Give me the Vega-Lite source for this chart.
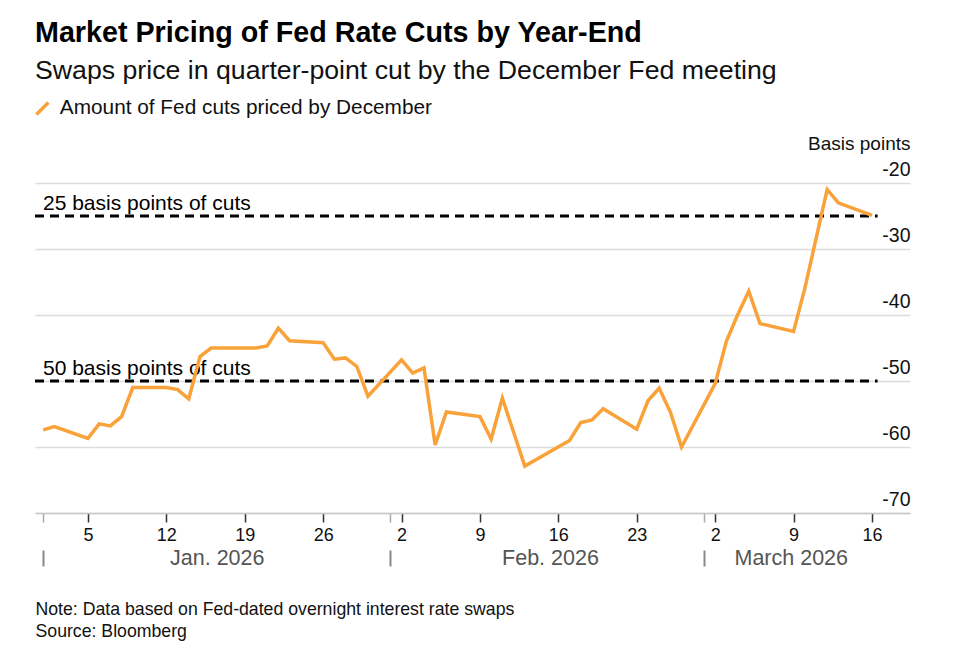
{
  "$schema": "https://vega.github.io/schema/vega-lite/v6.json",
  "width": 875,
  "height": 330,
  "autosize": {"type": "none"},
  "padding": {"left": 35, "top": 183, "right": 50, "bottom": 141},
  "background": "white",
  "config": {"font": "Liberation Sans", "view": {"stroke": null}},
  "title": {
    "text": "Market Pricing of Fed Rate Cuts by Year-End",
    "subtitle": "Swaps price in quarter-point cut by the December Fed meeting",
    "anchor": "start",
    "frame": "group",
    "font": "Liberation Sans",
    "fontSize": 28.7,
    "fontWeight": "bold",
    "color": "#000000",
    "subtitleFont": "Liberation Sans",
    "subtitleFontSize": 26.7,
    "subtitleColor": "#111111",
    "subtitlePadding": 11,
    "offset": 13
  },
  "datasets": {
    "swaps": [
      {"date": "2026-01-01", "bp": -57.4},
      {"date": "2026-01-02", "bp": -56.9},
      {"date": "2026-01-05", "bp": -58.7},
      {"date": "2026-01-06", "bp": -56.5},
      {"date": "2026-01-07", "bp": -56.8},
      {"date": "2026-01-08", "bp": -55.4},
      {"date": "2026-01-09", "bp": -51.0},
      {"date": "2026-01-12", "bp": -51.0},
      {"date": "2026-01-13", "bp": -51.3},
      {"date": "2026-01-14", "bp": -52.7},
      {"date": "2026-01-15", "bp": -46.3},
      {"date": "2026-01-16", "bp": -45.0},
      {"date": "2026-01-20", "bp": -45.0},
      {"date": "2026-01-21", "bp": -44.7},
      {"date": "2026-01-22", "bp": -42.0},
      {"date": "2026-01-23", "bp": -43.9},
      {"date": "2026-01-26", "bp": -44.2},
      {"date": "2026-01-27", "bp": -46.7},
      {"date": "2026-01-28", "bp": -46.5},
      {"date": "2026-01-29", "bp": -47.8},
      {"date": "2026-01-30", "bp": -52.3},
      {"date": "2026-02-02", "bp": -46.8},
      {"date": "2026-02-03", "bp": -48.8},
      {"date": "2026-02-04", "bp": -48.0},
      {"date": "2026-02-05", "bp": -59.7},
      {"date": "2026-02-06", "bp": -54.7},
      {"date": "2026-02-09", "bp": -55.4},
      {"date": "2026-02-10", "bp": -58.8},
      {"date": "2026-02-11", "bp": -52.6},
      {"date": "2026-02-13", "bp": -62.9},
      {"date": "2026-02-17", "bp": -59.0},
      {"date": "2026-02-18", "bp": -56.3},
      {"date": "2026-02-19", "bp": -55.9},
      {"date": "2026-02-20", "bp": -54.2},
      {"date": "2026-02-23", "bp": -57.3},
      {"date": "2026-02-24", "bp": -53.0},
      {"date": "2026-02-25", "bp": -51.1},
      {"date": "2026-02-26", "bp": -54.7},
      {"date": "2026-02-27", "bp": -60.0},
      {"date": "2026-03-02", "bp": -50.4},
      {"date": "2026-03-03", "bp": -44.0},
      {"date": "2026-03-04", "bp": -40.0},
      {"date": "2026-03-05", "bp": -36.4},
      {"date": "2026-03-06", "bp": -41.3},
      {"date": "2026-03-09", "bp": -42.5},
      {"date": "2026-03-10", "bp": -36.0},
      {"date": "2026-03-12", "bp": -21.0},
      {"date": "2026-03-13", "bp": -23.0},
      {"date": "2026-03-16", "bp": -24.9}
    ],
    "refs": [
      {"level": -25, "label": "25 basis points of cuts", "start": "2025-12-31T06:30:00Z", "end": "2026-03-16T12:00:00Z"},
      {"level": -50, "label": "50 basis points of cuts", "start": "2025-12-31T06:30:00Z", "end": "2026-03-16T12:00:00Z"}
    ]
  },
  "layer": [
    {
      "data": {"name": "refs"},
      "mark": {"type": "rule", "strokeDash": [9, 6], "strokeWidth": 2.8, "color": "#000000"},
      "encoding": {
        "x": {
          "field": "start",
          "type": "temporal",
          "scale": {
            "type": "utc",
            "domain": [
              {"year": 2025, "month": 12, "date": 31, "hours": 6, "minutes": 30, "utc": true},
              {"year": 2026, "month": 3, "date": 19, "hours": 9, "minutes": 30, "utc": true}
            ]
          },
          "axis": {
            "orient": "bottom",
            "offset": 37,
            "domain": false,
            "grid": false,
            "values": [
              {"year": 2026, "month": 1, "date": 1, "utc": true},
              {"year": 2026, "month": 1, "date": 16, "hours": 12, "utc": true},
              {"year": 2026, "month": 2, "date": 1, "utc": true},
              {"year": 2026, "month": 2, "date": 15, "hours": 6, "utc": true},
              {"year": 2026, "month": 3, "date": 1, "utc": true},
              {"year": 2026, "month": 3, "date": 8, "hours": 18, "utc": true}
            ],
            "labelExpr": "utcdate(datum.value) == 1 ? '' : (utcmonth(datum.value) == 2 ? 'March 2026' : utcFormat(datum.value, '%b. %Y'))",
            "labelFlush": false,
            "labelOverlap": false,
            "labelBaseline": "middle",
            "labelPadding": -8,
            "labelFontSize": 21.5,
            "labelColor": "#555555",
            "labelFont": "Liberation Sans",
            "tickSize": 16,
            "tickWidth": 2,
            "tickColor": "#888888",
            "tickOpacity": {"condition": {"test": "utcdate(datum.value) == 1", "value": 1}, "value": 0},
            "title": ["Note: Data based on Fed-dated overnight interest rate swaps", "Source: Bloomberg"],
            "titleAlign": "left",
            "titleAnchor": "start",
            "titleBaseline": "alphabetic",
            "titleX": 0,
            "titleY": 64,
            "titleLineHeight": 22,
            "titleFont": "Liberation Sans",
            "titleFontSize": 17.7,
            "titleFontWeight": "normal",
            "titleColor": "#111111"
          }
        },
        "x2": {"field": "end"},
        "y": {
          "field": "level",
          "type": "quantitative",
          "scale": {"domain": [-70, -20], "nice": false, "zero": false},
          "axis": {
            "orient": "right",
            "values": [-70, -60, -50, -40, -30, -20],
            "labelExpr": "'' + datum.value",
            "grid": true,
            "gridColor": "#dcdcdc",
            "gridWidth": 1.5,
            "domain": false,
            "ticks": false,
            "tickSize": 0,
            "labelAlign": "right",
            "labelBaseline": "alphabetic",
            "labelPadding": 0,
            "labelOffset": -8,
            "labelFontSize": 19.5,
            "labelColor": "#111111",
            "labelFont": "Liberation Sans",
            "title": "Basis points",
            "titleAngle": 0,
            "titleAlign": "right",
            "titleBaseline": "alphabetic",
            "titleX": 0,
            "titleY": -34,
            "titleFontSize": 19,
            "titleFontWeight": "normal",
            "titleColor": "#111111",
            "titleFont": "Liberation Sans"
          }
        }
      }
    },
    {
      "data": {"name": "refs"},
      "mark": {"type": "text", "align": "left", "baseline": "alphabetic", "dx": 8, "dy": -6, "fontSize": 21, "color": "#000000", "font": "Liberation Sans"},
      "encoding": {
        "x": {"field": "start", "type": "temporal", "axis": null},
        "y": {
          "field": "level",
          "type": "quantitative",
          "axis": {
            "orient": "right",
            "values": [-70, -60, -50, -40, -30, -20],
            "labelExpr": "'' + datum.value",
            "grid": true,
            "gridColor": "#dcdcdc",
            "gridWidth": 1.5,
            "domain": false,
            "ticks": false,
            "tickSize": 0,
            "labelAlign": "right",
            "labelBaseline": "alphabetic",
            "labelPadding": 0,
            "labelOffset": -8,
            "labelFontSize": 19.5,
            "labelColor": "#111111",
            "labelFont": "Liberation Sans",
            "title": "Basis points",
            "titleAngle": 0,
            "titleAlign": "right",
            "titleBaseline": "alphabetic",
            "titleX": 0,
            "titleY": -34,
            "titleFontSize": 19,
            "titleFontWeight": "normal",
            "titleColor": "#111111",
            "titleFont": "Liberation Sans"
          }
        },
        "text": {"field": "label"}
      }
    },
    {
      "data": {"name": "swaps"},
      "mark": {"type": "line", "strokeWidth": 3.5, "strokeJoin": "miter"},
      "encoding": {
        "x": {
          "field": "date",
          "type": "temporal",
          "axis": {
            "orient": "bottom",
            "values": [
              {"year": 2026, "month": 1, "date": 1, "utc": true},
              {"year": 2026, "month": 1, "date": 5, "utc": true},
              {"year": 2026, "month": 1, "date": 12, "utc": true},
              {"year": 2026, "month": 1, "date": 19, "utc": true},
              {"year": 2026, "month": 1, "date": 26, "utc": true},
              {"year": 2026, "month": 2, "date": 1, "utc": true},
              {"year": 2026, "month": 2, "date": 2, "utc": true},
              {"year": 2026, "month": 2, "date": 9, "utc": true},
              {"year": 2026, "month": 2, "date": 16, "utc": true},
              {"year": 2026, "month": 2, "date": 23, "utc": true},
              {"year": 2026, "month": 3, "date": 1, "utc": true},
              {"year": 2026, "month": 3, "date": 2, "utc": true},
              {"year": 2026, "month": 3, "date": 9, "utc": true},
              {"year": 2026, "month": 3, "date": 16, "utc": true}
            ],
            "labelExpr": "utcdate(datum.value) == 1 ? '' : utcFormat(datum.value, '%-d')",
            "labelFlush": false,
            "labelOverlap": false,
            "labelPadding": 4,
            "labelFontSize": 18,
            "labelColor": "#111111",
            "labelFont": "Liberation Sans",
            "tickSize": 9,
            "tickWidth": 1.5,
            "tickColor": {"condition": {"test": "utcdate(datum.value) == 1", "value": "#aaaaaa"}, "value": "#333333"},
            "domain": true,
            "domainColor": "#c8c8c8",
            "domainWidth": 1.5,
            "grid": false,
            "title": null
          }
        },
        "y": {
          "field": "bp",
          "type": "quantitative",
          "axis": {
            "orient": "right",
            "values": [-70, -60, -50, -40, -30, -20],
            "labelExpr": "'' + datum.value",
            "grid": true,
            "gridColor": "#dcdcdc",
            "gridWidth": 1.5,
            "domain": false,
            "ticks": false,
            "tickSize": 0,
            "labelAlign": "right",
            "labelBaseline": "alphabetic",
            "labelPadding": 0,
            "labelOffset": -8,
            "labelFontSize": 19.5,
            "labelColor": "#111111",
            "labelFont": "Liberation Sans",
            "title": "Basis points",
            "titleAngle": 0,
            "titleAlign": "right",
            "titleBaseline": "alphabetic",
            "titleX": 0,
            "titleY": -34,
            "titleFontSize": 19,
            "titleFontWeight": "normal",
            "titleColor": "#111111",
            "titleFont": "Liberation Sans"
          }
        },
        "color": {
          "datum": "Amount of Fed cuts priced by December",
          "scale": {"range": ["#FAA23A"]},
          "legend": {
            "orient": "none",
            "legendX": -3,
            "legendY": -85,
            "title": null,
            "padding": 0,
            "labelFontSize": 20.8,
            "labelLimit": 0,
            "labelColor": "#111111",
            "labelFont": "Liberation Sans",
            "symbolType": "M-1,1L1,-1",
            "symbolSize": 144,
            "symbolStrokeWidth": 3.5,
            "labelOffset": 7
          }
        }
      }
    }
  ],
  "resolve": {"axis": {"x": "independent"}}
}
